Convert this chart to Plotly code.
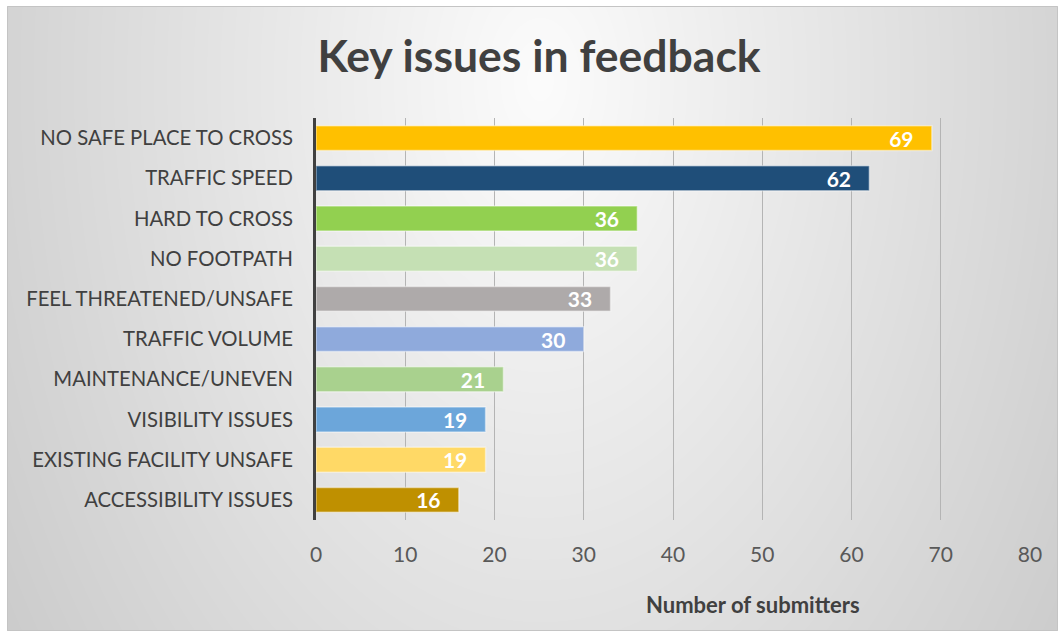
import base64, struct, zlib
import numpy as np
import plotly.graph_objects as go

categories = ["NO SAFE PLACE TO CROSS", "TRAFFIC SPEED", "HARD TO CROSS", "NO FOOTPATH",
              "FEEL THREATENED/UNSAFE", "TRAFFIC VOLUME", "MAINTENANCE/UNEVEN",
              "VISIBILITY ISSUES", "EXISTING FACILITY UNSAFE", "ACCESSIBILITY ISSUES"]
values = [69, 62, 36, 36, 33, 30, 21, 19, 19, 16]
bar_colors = ["#FFC000", "#1F4E79", "#92D050", "#C5E0B4", "#AEAAAA",
              "#8FAADC", "#A9D18E", "#6CA6DA", "#FFD966", "#BF9000"]
x_ticks = [0, 10, 20, 30, 40, 50, 60, 70, 80]

W, H = 1058, 631
L, R, T, B = 316, 28, 118, 111
PW, PH = W - L - R, H - T - B

# radial grey background image
bx0, by0 = 7, 6
iw, ih = W - bx0, H - by0
yy, xx = np.mgrid[0:ih, 0:iw]
d = np.sqrt(((xx + bx0 - 540) / 640.0) ** 2 + ((yy + by0 - 80) / 1000.0) ** 2)
v = np.clip(252 - 48 * d, 195, 252).astype(np.uint8)


def make_png(arr):
    h, w = arr.shape
    raw = b"".join(b"\x00" + arr[i].tobytes() for i in range(h))

    def chunk(t, data):
        c = struct.pack(">I", len(data)) + t + data
        return c + struct.pack(">I", zlib.crc32(t + data) & 0xffffffff)

    return (b"\x89PNG\r\n\x1a\n" + chunk(b"IHDR", struct.pack(">IIBBBBB", w, h, 8, 0, 0, 0, 0))
            + chunk(b"IDAT", zlib.compress(raw, 9)) + chunk(b"IEND", b""))


bg_uri = "data:image/png;base64," + base64.b64encode(make_png(v)).decode()


def px2paper_x(px):
    return (px - L) / PW


def px2paper_y(py):
    return 1 - (py - T) / PH


FONT = "Lato"
fig = go.Figure()
fig.add_trace(go.Bar(
    y=categories, x=values, orientation="h",
    marker=dict(color=bar_colors, line=dict(color="rgba(255,255,255,0.45)", width=1.5)),
    width=0.62,
    texttemplate="%{x}\u00a0\u00a0\u00a0",
    textposition="inside", insidetextanchor="end", textangle=0, constraintext="none",
    insidetextfont=dict(family=FONT, size=21, color="white", weight="bold"),
    hoverinfo="skip",
))

fig.update_layout(
    width=W, height=H,
    margin=dict(l=L, r=R, t=T, b=B, pad=0),
    paper_bgcolor="white", plot_bgcolor="rgba(0,0,0,0)",
    showlegend=False,
    title=dict(text="<b>Key issues in feedback</b>", x=539 / W, y=1 - 56 / H,
               xanchor="center", yanchor="middle", xref="container", yref="container",
               font=dict(family=FONT, size=44.5, color="#404040")),
    xaxis=dict(range=[0, 80], tickvals=x_ticks, showgrid=True, gridcolor="#b4b4b4", gridwidth=1,
               zeroline=False, showline=False, ticks="",
               tickfont=dict(family=FONT, size=21, color="#595959"), ticklabelstandoff=20),
    yaxis=dict(autorange="reversed", showgrid=False, zeroline=False,
               showline=True, linecolor="#404040", linewidth=3, ticks="",
               tickfont=dict(family=FONT, size=20.3, color="#404040"), ticklabelstandoff=16),
    images=[dict(source=bg_uri, xref="paper", yref="paper",
                 x=px2paper_x(bx0), y=px2paper_y(by0), sizex=iw / PW, sizey=ih / PH,
                 xanchor="left", yanchor="top", sizing="stretch", layer="below")],
    shapes=[dict(type="rect", xref="paper", yref="paper",
                 x0=px2paper_x(bx0 + 0.5), x1=px2paper_x(W - 0.5),
                 y0=px2paper_y(by0 + 0.5), y1=px2paper_y(H - 0.5),
                 line=dict(color="#c4c4c4", width=1), fillcolor="rgba(0,0,0,0)", layer="below")],
    annotations=[dict(text="<b>Number of submitters</b>", xref="paper", yref="paper",
                      x=px2paper_x(753), y=px2paper_y(604), xanchor="center", yanchor="middle",
                      showarrow=False, font=dict(family=FONT, size=22, color="#404040"))],
)

fig.write_html("out.html", config={"displayModeBar": False},
               post_script="document.body.style.margin='0';document.body.style.overflow='hidden';")
